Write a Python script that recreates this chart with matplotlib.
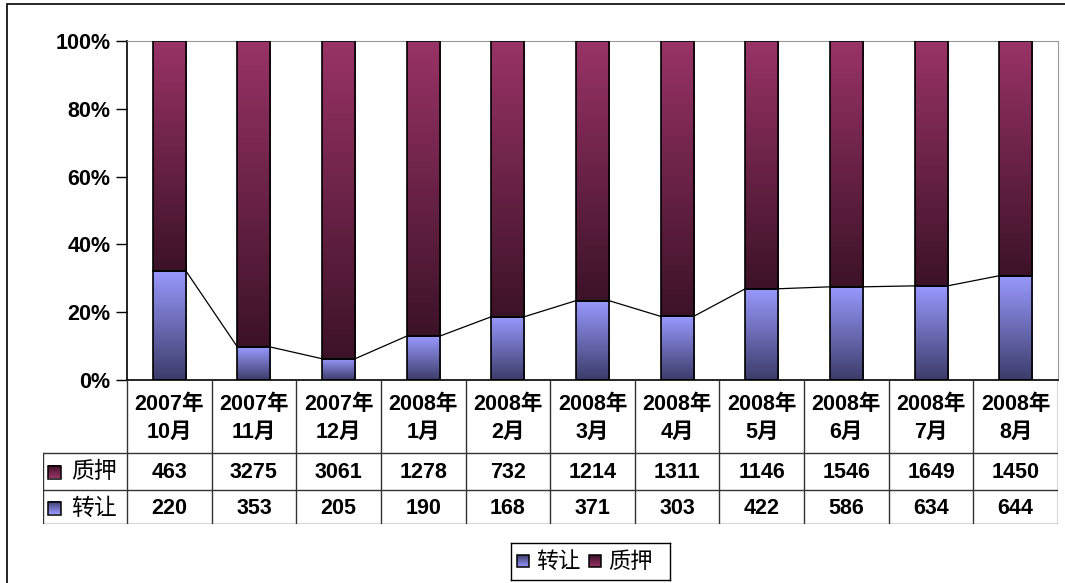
import numpy as np
import matplotlib
matplotlib.use("Agg")
import matplotlib.pyplot as plt
from matplotlib.patches import Rectangle
from matplotlib.colors import LinearSegmentedColormap

# data
months = ['2007年\n10月', '2007年\n11月', '2007年\n12月', '2008年\n1月', '2008年\n2月',
          '2008年\n3月', '2008年\n4月', '2008年\n5月', '2008年\n6月', '2008年\n7月', '2008年\n8月']
pledge = [463, 3275, 3061, 1278, 732, 1214, 1311, 1146, 1546, 1649, 1450]   # 质押
transfer = [220, 353, 205, 190, 168, 371, 303, 422, 586, 634, 644]          # 转让
yticks = [0, 0.2, 0.4, 0.6, 0.8, 1.0]
ytick_labels = ['0%', '20%', '40%', '60%', '80%', '100%']

FONT = ['Liberation Sans', 'Noto Sans CJK SC']
CJK = ['Noto Sans CJK SC', 'DejaVu Sans']

W, H = 1065, 583
fig = plt.figure(figsize=(W / 100, H / 100), dpi=100)

def fx(px):
    return px / W

def fy(py):
    return 1 - py / H

# outer chart border
fig.patches.append(Rectangle((fx(7), -0.1), 1.2, fy(4) + 0.1, transform=fig.transFigure,
                             fill=False, edgecolor='black', lw=1.2))

L, R, T, B = 127, 1058, 41, 380
ax = fig.add_axes([fx(L), fy(B), fx(R - L), fy(T) - fy(B)])
n = len(months)

cm_tr = LinearSegmentedColormap.from_list('tr', ['#3c3c6a', '#9999ff'])
cm_pl = LinearSegmentedColormap.from_list('pl', ['#3c1227', '#993366'])
grad = np.linspace(0, 1, 256).reshape(-1, 1)

bw = 0.39
tot = np.array(pledge) + np.array(transfer)
p_tr = np.array(transfer) / tot
for i in range(n):
    x0, x1 = i + 0.5 - bw / 2, i + 0.5 + bw / 2
    ax.imshow(grad, cmap=cm_tr, extent=(x0, x1, 0, p_tr[i]), origin='lower',
              aspect='auto', zorder=2)
    ax.imshow(grad, cmap=cm_pl, extent=(x0, x1, p_tr[i], 1), origin='lower',
              aspect='auto', zorder=2)
    ax.add_patch(Rectangle((x0, 0), bw, p_tr[i], fill=False, edgecolor='black', lw=1.2, zorder=3))
    ax.add_patch(Rectangle((x0, p_tr[i]), bw, 1 - p_tr[i], fill=False, edgecolor='black', lw=1.2, zorder=3))
    if i < n - 1:
        ax.plot([x1, i + 1.5 - bw / 2], [p_tr[i], p_tr[i + 1]], color='black', lw=0.9, zorder=3)

ax.set_xlim(0, n)
ax.set_ylim(0, 1)
ax.set_xticks([])
ax.set_yticks(yticks)
ax.set_yticklabels(ytick_labels, fontsize=15.5, fontweight='bold', family=FONT)
ax.tick_params(axis='y', length=8, width=1, pad=4)
ax.spines['top'].set_color('#999999')
ax.spines['right'].set_color('#999999')
ax.spines['left'].set_linewidth(1.2)
ax.spines['bottom'].set_linewidth(1.2)

# data table
TL = 43
tb = fig.add_axes([fx(TL), fy(524), fx(R - TL), fy(380) - fy(524)])
cw = (R - L) / n
tb.set_xlim(-(L - TL) / cw, n)
tb.set_ylim(524, 380)
tb.axis('off')
lc = '#333333'
for i in range(n + 1):
    tb.plot([i, i], [380, 524], color=lc, lw=1)
tb.plot([tb.get_xlim()[0]] * 2, [453, 524], color=lc, lw=1)
for yy in [453, 490, 524]:
    tb.plot([tb.get_xlim()[0], n], [yy, yy], color=lc, lw=1)
for i in range(n):
    yr, mo = months[i].split('\n')
    tb.text(i + 0.5, 404, yr, ha='center', va='center', fontsize=15.5,
            fontweight='bold', family=FONT)
    tb.text(i + 0.5, 432, mo, ha='center', va='center', fontsize=15.5,
            fontweight='bold', family=FONT)
    tb.text(i + 0.5, 473, str(pledge[i]), ha='center', va='center', fontsize=15.5,
            fontweight='bold', family=FONT)
    tb.text(i + 0.5, 509, str(transfer[i]), ha='center', va='center', fontsize=15.5,
            fontweight='bold', family=FONT)

def swatch(axis, x, y, w, h, cmap):
    axis.imshow(grad, cmap=cmap, extent=(x, x + w, y + h, y), origin='upper',
                aspect='auto', zorder=4, clip_on=False)
    axis.add_patch(Rectangle((x, y), w, h, fill=False, edgecolor='black', lw=1.1,
                             zorder=5, clip_on=False))

x_lab = tb.get_xlim()[0]
for yy, lab, cmap in [(472, '质押', cm_pl), (508, '转让', cm_tr)]:
    swatch(tb, x_lab + 0.06, yy - 6.5, 13 / cw, 13, cmap)
    tb.text(x_lab + 0.33, yy, lab, ha='left', va='center', fontsize=16.5, family=CJK)
tb.set_xlim(-(L - TL) / cw, n)
tb.set_ylim(524, 380)

# legend
lg = fig.add_axes([fx(511), fy(580), fx(670 - 511), fy(543) - fy(580)])
for s in lg.spines.values():
    s.set_linewidth(1)
for x, lab, cmap in [(517, '转让', cm_tr), (589, '质押', cm_pl)]:
    swatch(lg, x, 555, 12, 12, cmap)
    lg.text(x + 19, 561, lab, ha='left', va='center', fontsize=16, family=CJK)
lg.set_xlim(511, 670)
lg.set_ylim(580, 543)
lg.set_xticks([])
lg.set_yticks([])

fig.savefig('out.png', dpi=100)
